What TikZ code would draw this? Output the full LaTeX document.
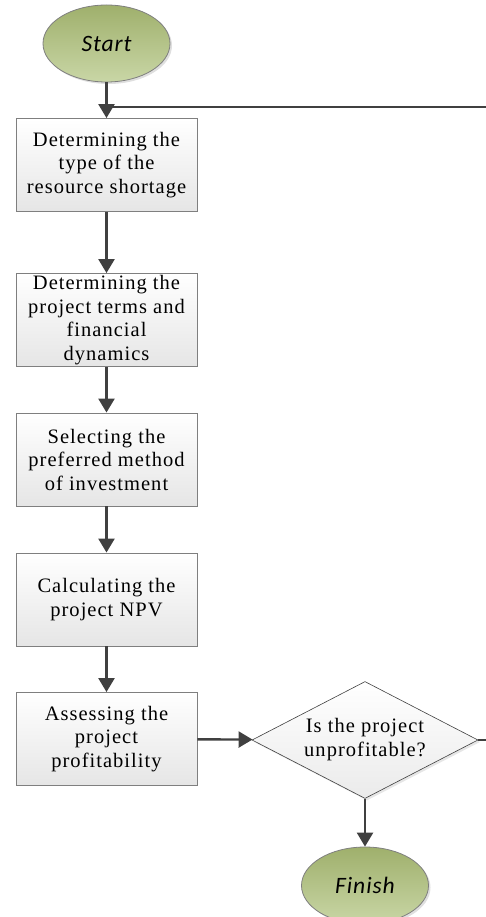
\documentclass[tikz,border=0pt]{standalone}
\usepackage{fontspec}
\setmainfont{Liberation Serif}[LetterSpace=5]
\newfontfamily\termfont{Carlito}[LetterSpace=4]
\usetikzlibrary{positioning}
\usetikzlibrary{shapes.geometric}
\usetikzlibrary{arrows.meta}
\usetikzlibrary{shadows}
\definecolor{linegray}{HTML}{404040}
\definecolor{edgegray}{HTML}{7F7F7F}
\definecolor{olivetop}{HTML}{9FB06C}
\definecolor{olivebot}{HTML}{C9D6A6}
\tikzset{
    process/.style={draw=edgegray, line width=0.9pt, rectangle,
        minimum width=181pt, minimum height=93pt, inner sep=0pt,
        top color=white, bottom color=black!10, align=center,
        font=\fontsize{20.5}{23.5}\selectfont},
    terminal/.style={draw=edgegray, line width=0.8pt, ellipse,
        minimum width=127pt, minimum height=77pt, inner sep=0pt,
        top color=olivetop, bottom color=olivebot,
        drop shadow={shadow xshift=2pt, shadow yshift=-2pt, opacity=0.25},
        font=\termfont\itshape\fontsize{23.5}{27}\selectfont},
    decision/.style={draw=linegray, line width=0.6pt, diamond, aspect=1.93,
        minimum width=226pt, minimum height=117pt, inner sep=0pt,
        top color=white, bottom color=black!8, align=center,
        drop shadow={shadow xshift=2pt, shadow yshift=-2pt, opacity=0.2},
        font=\fontsize{20.5}{24}\selectfont},
    flow/.style={draw=linegray, line width=2.4pt,
        -{Triangle[length=14pt, width=16pt]}},
    loopline/.style={draw=linegray, line width=2.4pt}
}

\begin{document}
\begin{tikzpicture}[x=1pt, y=-1pt]
    \clip (0, 0) rectangle (486, 917);

    \node[terminal] (start) at (106.5, 43.5) {Start};
    \node[process] (shortage) at (106.5, 165) {Determining the\\type of the\\resource shortage};
    \node[process] (terms) at (106.5, 320) {Determining the\\project terms and\\financial\\dynamics};
    \node[process] (method) at (106.5, 459.5) {Selecting the\\preferred method\\of investment};
    \node[process] (npv) at (106.5, 599.5) {Calculating the\\project NPV};
    \node[process] (assess) at (106.5, 739) {Assessing the\\project\\profitability};
    \node[decision] (check) at (365, 740) {Is the project\\unprofitable?};
    \node[terminal] (finish) at (365, 885.5) {Finish};
    \coordinate (join) at (106.5, 107);

    \draw[flow] (start) -- (shortage);
    \draw[flow] (shortage) -- (terms);
    \draw[flow] (terms) -- (method);
    \draw[flow] (method) -- (npv);
    \draw[flow] (npv) -- (assess);
    \draw[flow] (assess) -- (check);
    \draw[flow] (check) -- (finish);
    % back to the start when the project does not pay off
    \draw[loopline] (check.east) -- ++(30, 0) |- (join);
\end{tikzpicture}
\end{document}
